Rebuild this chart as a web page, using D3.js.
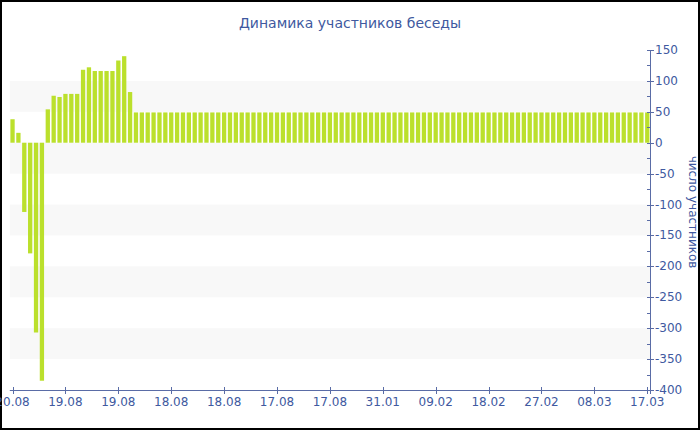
<!DOCTYPE html>
<html>
<head>
<meta charset="utf-8">
<script src="https://cdn.jsdelivr.net/npm/d3@7"></script>
<style>
html,body{margin:0;padding:0;background:#fff;}
svg{display:block;}
text{font-family:"DejaVu Sans",Verdana,sans-serif;}
</style>
</head>
<body>
<svg id="chart" width="700" height="430"></svg>
<script>
const title = "Динамика участников беседы";
const yTitle = "число участников";
const tickLabels = ["20.08","19.08","19.08","18.08","18.08","17.08","17.08","31.01","09.02","18.02","27.02","08.03","17.03"];
const values = [38,16,-112,-179,-307,-385,54,76,74,79,79,79,118,122,116,116,116,116,133,140,82,
49,49,49,49,49,49,49,49,49,49,49,49,49,49,49,49,49,49,49,49,49,49,
49,49,49,49,49,49,49,49,49,49,49,49,49,49,49,49,49,49,49,49,49,49,
49,49,49,49,49,49,49,49,49,49,49,49,49,49,49,49,49,49,49,49,49,49,
49,49,49,49,49,49,49,49,49,49,49,49,49,49,49,49,49,49,49,49,49,49];
const yTicks = [150,100,50,0,-50,-100,-150,-200,-250,-300,-350,-400];
const bandStarts = [100,0,-100,-200,-300];
const tickEvery = 9;

(function(){
const W = 700, H = 430;
const pL = 9.8, pR = 650, pT = 50, pB = 390;
const textColor = "#4059a0", axisColor = "#5a6ca6", barColor = "#bbe02c";

const svg = d3.select("#chart");
svg.append("rect").attr("x",1).attr("y",1).attr("width",W-2).attr("height",H-2)
  .attr("fill","#fff").attr("stroke","#000").attr("stroke-width",2);

const x = d3.scaleBand().domain(d3.range(values.length)).range([pL,pR]).paddingInner(0.27).paddingOuter(0.1);
const y = d3.scaleLinear().domain([-400,150]).range([pB,pT]);

svg.append("g").selectAll("rect").data(bandStarts).join("rect")
  .attr("x",pL).attr("width",pR-pL)
  .attr("y",d=>y(d)).attr("height",d=>y(d-50)-y(d))
  .attr("fill","#f8f8f8");

svg.append("g").selectAll("rect").data(values).join("rect")
  .attr("x",(d,i)=>x(i)).attr("width",x.bandwidth())
  .attr("y",d=>y(Math.max(0,d))).attr("height",d=>Math.abs(y(d)-y(0)))
  .attr("fill",barColor);

const xg = svg.append("g");
xg.append("line").attr("x1",pL).attr("x2",pR).attr("y1",pB+0.5).attr("y2",pB+0.5)
  .attr("stroke",axisColor).attr("stroke-width",1);
const tickIdx = tickLabels.map((d,i)=>i*tickEvery);
xg.selectAll("line.t").data(tickIdx).join("line").attr("class","t")
  .attr("x1",d=>Math.round(x(d)+x.bandwidth()/2)+0.5).attr("x2",d=>Math.round(x(d)+x.bandwidth()/2)+0.5)
  .attr("y1",pB-3).attr("y2",pB+4).attr("stroke",axisColor);
xg.selectAll("text").data(tickIdx).join("text")
  .attr("x",d=>x(d)+x.bandwidth()/2).attr("y",pB+16)
  .attr("text-anchor","middle").attr("font-size",12).attr("fill",textColor)
  .text((d,i)=>tickLabels[i]);

const yg = svg.append("g");
yg.append("line").attr("x1",pR+0.5).attr("x2",pR+0.5).attr("y1",pT).attr("y2",pB+4)
  .attr("stroke",axisColor);
yg.selectAll("line.t").data(yTicks).join("line").attr("class","t")
  .attr("x1",pR-3).attr("x2",pR+4)
  .attr("y1",d=>Math.round(y(d))+0.5).attr("y2",d=>Math.round(y(d))+0.5).attr("stroke",axisColor);
yg.selectAll("line.m").data(yTicks.slice(1).map(d=>d+25)).join("line").attr("class","m")
  .attr("x1",pR-3).attr("x2",pR)
  .attr("y1",d=>Math.round(y(d))+0.5).attr("y2",d=>Math.round(y(d))+0.5).attr("stroke",axisColor);
yg.selectAll("text").data(yTicks).join("text")
  .attr("x",pR+5).attr("y",d=>y(d)+4)
  .attr("font-size",12).attr("fill",textColor).text(d=>d);

svg.append("text").attr("transform",`translate(689,212) rotate(90)`)
  .attr("text-anchor","middle").attr("font-size",12).attr("fill",textColor).text(yTitle);

svg.append("text").attr("x",350).attr("y",28).attr("text-anchor","middle")
  .attr("font-size",14).attr("fill",textColor).text(title);
})();
</script>
</body>
</html>
